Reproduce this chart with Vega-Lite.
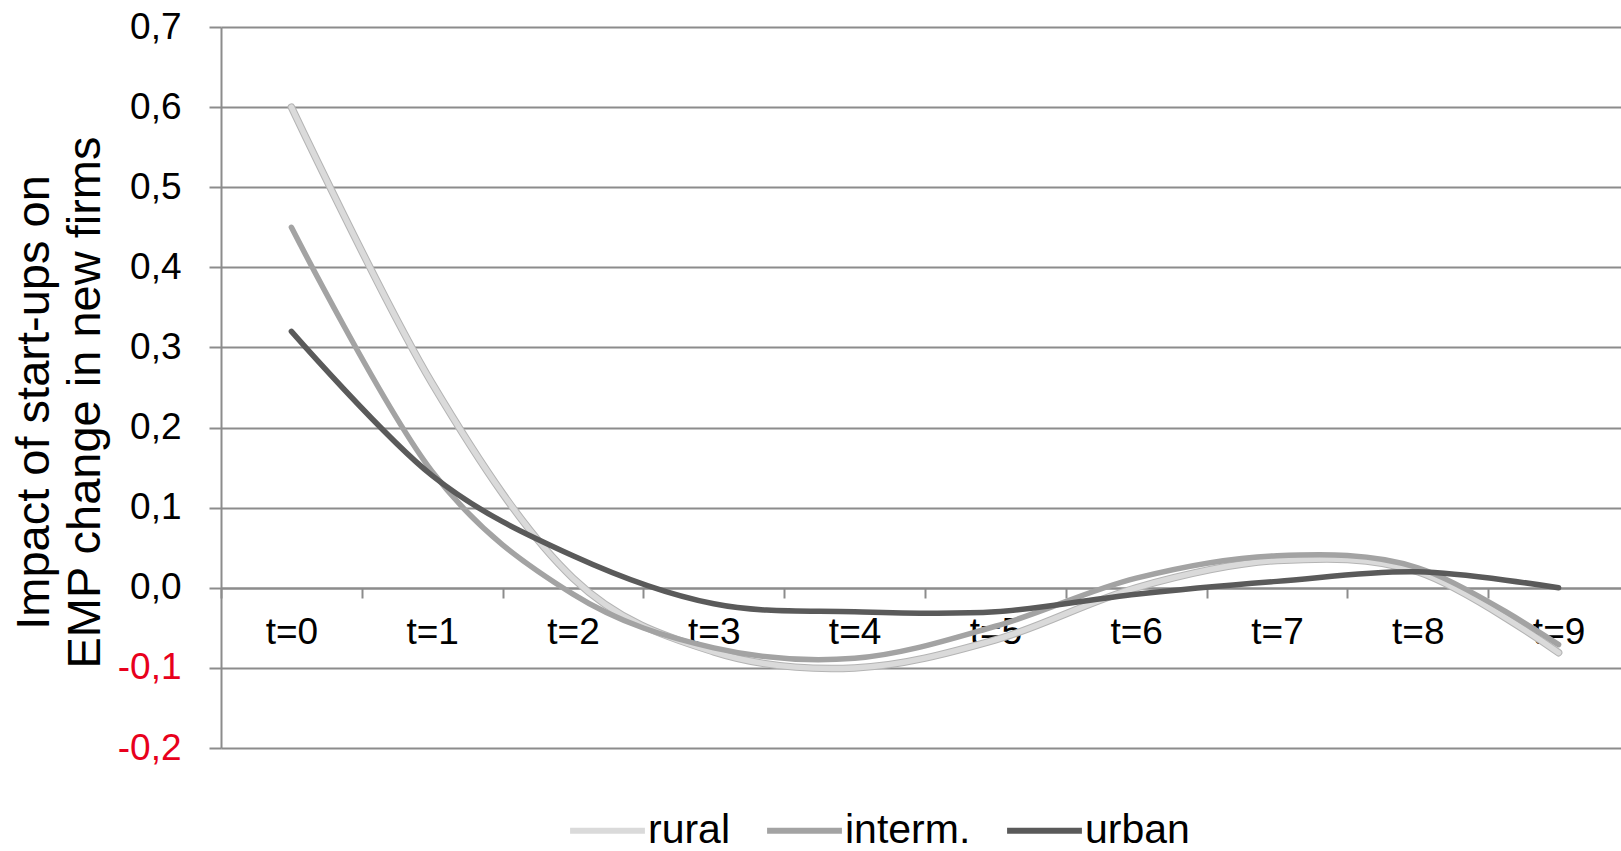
{
  "$schema": "https://vega.github.io/schema/vega-lite/v6.json",
  "autosize": {"type": "none"},
  "padding": {"left": 221, "top": 27, "right": 0, "bottom": 103},
  "width": 1400,
  "height": 721,
  "background": "white",
  "config": {
    "view": {"stroke": null},
    "font": "Liberation Sans"
  },
  "data": {
    "values": [
      {"t": "t=0", "series": "rural", "v": 0.60},
      {"t": "t=1", "series": "rural", "v": 0.255},
      {"t": "t=2", "series": "rural", "v": 0.012},
      {"t": "t=3", "series": "rural", "v": -0.08},
      {"t": "t=4", "series": "rural", "v": -0.10},
      {"t": "t=5", "series": "rural", "v": -0.065},
      {"t": "t=6", "series": "rural", "v": 0.0},
      {"t": "t=7", "series": "rural", "v": 0.034},
      {"t": "t=8", "series": "rural", "v": 0.02},
      {"t": "t=9", "series": "rural", "v": -0.081},
      {"t": "t=0", "series": "interm.", "v": 0.45},
      {"t": "t=1", "series": "interm.", "v": 0.145},
      {"t": "t=2", "series": "interm.", "v": -0.008},
      {"t": "t=3", "series": "interm.", "v": -0.075},
      {"t": "t=4", "series": "interm.", "v": -0.088},
      {"t": "t=5", "series": "interm.", "v": -0.048},
      {"t": "t=6", "series": "interm.", "v": 0.012},
      {"t": "t=7", "series": "interm.", "v": 0.04},
      {"t": "t=8", "series": "interm.", "v": 0.025},
      {"t": "t=9", "series": "interm.", "v": -0.071},
      {"t": "t=0", "series": "urban", "v": 0.32},
      {"t": "t=1", "series": "urban", "v": 0.14},
      {"t": "t=2", "series": "urban", "v": 0.04},
      {"t": "t=3", "series": "urban", "v": -0.02},
      {"t": "t=4", "series": "urban", "v": -0.03},
      {"t": "t=5", "series": "urban", "v": -0.03},
      {"t": "t=6", "series": "urban", "v": -0.008},
      {"t": "t=7", "series": "urban", "v": 0.008},
      {"t": "t=8", "series": "urban", "v": 0.02},
      {"t": "t=9", "series": "urban", "v": 0.0}
    ]
  },
  "encoding": {
    "x": {
      "field": "t",
      "type": "ordinal",
      "sort": null,
      "scale": {"type": "band", "paddingInner": 0, "paddingOuter": 0, "range": [0, 1408]},
      "axis": {
        "orient": "bottom",
        "title": null,
        "offset": -160,
        "labelAngle": 0,
        "labelFont": "Liberation Sans",
        "labelFontSize": 37,
        "labelColor": "black",
        "labelBaseline": "middle",
        "labelPadding": 34,
        "tickBand": "extent",
        "tickSize": 10,
        "tickColor": "#8c8c8c",
        "tickWidth": 2,
        "domain": true,
        "domainColor": "#8c8c8c",
        "domainWidth": 2,
        "grid": false
      }
    },
    "y": {
      "field": "v",
      "type": "quantitative",
      "scale": {"domain": [-0.2, 0.7], "nice": false, "zero": false},
      "axis": {
        "values": [-0.2, -0.1, 0, 0.1, 0.2, 0.3, 0.4, 0.5, 0.6, 0.7],
        "labelExpr": "(datum.value < -0.0001 ? '-' : '') + replace(format(abs(datum.value), '.1f'), '.', ',')",
        "labelFont": "Liberation Sans",
        "labelFontSize": 37,
        "labelColor": {"condition": {"test": "datum.value < -0.0001", "value": "#e8001c"}, "value": "black"},
        "labelPadding": 28,
        "tickSize": 12,
        "tickColor": "#8c8c8c",
        "tickWidth": 2,
        "domainColor": "#8c8c8c",
        "domainWidth": 2,
        "grid": true,
        "gridColor": "#8c8c8c",
        "gridWidth": 2,
        "title": ["Impact of start-ups on", "EMP change in new firms"],
        "titleFont": "Liberation Sans",
        "titleFontSize": 47,
        "titleFontWeight": "normal",
        "titleColor": "black",
        "titleAngle": -90,
        "titleAlign": "center",
        "titleBaseline": "alphabetic",
        "titleLineHeight": 51,
        "titleX": -173,
        "titleY": 375
      }
    }
  },
  "layer": [
    {
      "transform": [{"filter": "datum.series === 'rural'"}],
      "mark": {"type": "line", "interpolate": "cardinal", "strokeWidth": 7.5, "color": "#b4b4b4", "strokeCap": "round"},
      "encoding": {"detail": {"field": "series"}}
    },
    {
      "mark": {"type": "line", "interpolate": "cardinal", "strokeWidth": 5.5, "strokeCap": "round"},
      "encoding": {
        "color": {
          "field": "series",
          "type": "nominal",
          "sort": ["rural", "interm.", "urban"],
          "scale": {"domain": ["rural", "interm.", "urban"], "range": ["#dadada", "#a3a3a3", "#5a5a5a"]},
          "legend": {
            "orient": "none",
            "direction": "horizontal",
            "legendX": 346,
            "legendY": 763,
            "title": null,
            "symbolType": "stroke",
            "symbolSize": 5600,
            "symbolStrokeWidth": 6,
            "labelFont": "Liberation Sans",
            "labelFontSize": 41,
            "labelColor": "black",
            "labelOffset": 0,
            "columnPadding": 24
          }
        }
      }
    }
  ]
}
